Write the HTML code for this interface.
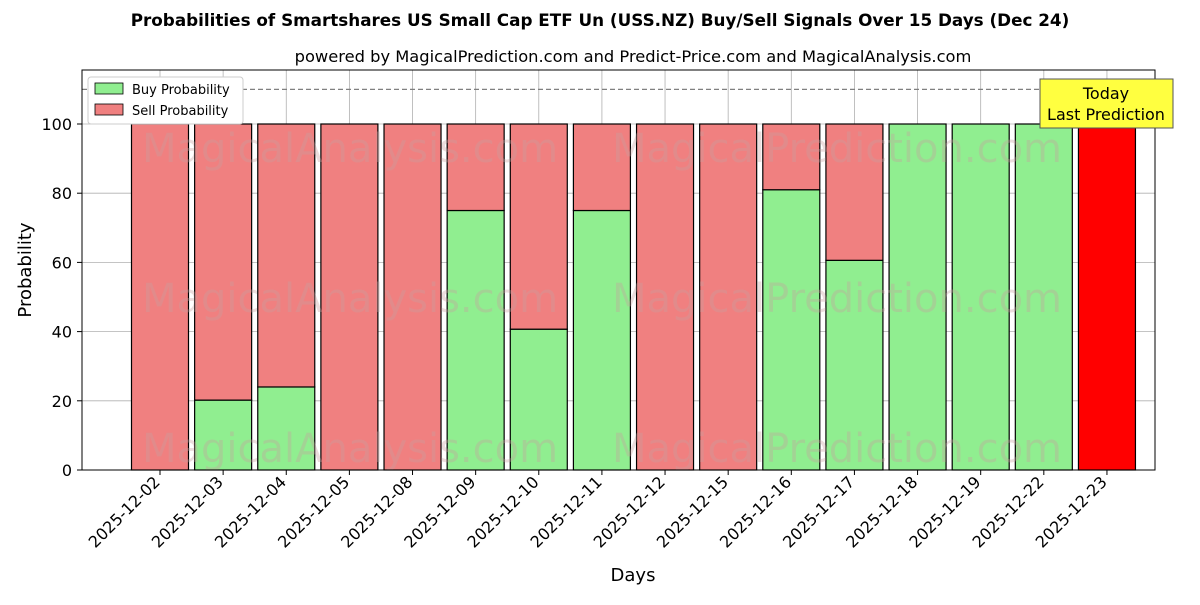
<!DOCTYPE html>
<html><head><meta charset="utf-8"><style>
body{margin:0;background:#fff;font-family:"Liberation Sans","DejaVu Sans",sans-serif;}
svg text{font-family:"DejaVu Sans","Liberation Sans",sans-serif;}
</style></head><body>
<svg id="chart" width="1200" height="600" xmlns="http://www.w3.org/2000/svg">
<rect width="1200" height="600" fill="#fff"/>
<text x="600" y="26" text-anchor="middle" font-size="16.8" font-weight="bold">Probabilities of Smartshares US Small Cap ETF Un (USS.NZ) Buy/Sell Signals Over 15 Days (Dec 24)</text>
<text x="633" y="62" text-anchor="middle" font-size="16.3">powered by MagicalPrediction.com and Predict-Price.com and MagicalAnalysis.com</text>
<g id="grid"></g>
<g id="bars"></g>
<g id="wm" fill="#c8a0a0" opacity="0.35" font-size="40">
<text x="350" y="162" text-anchor="middle">MagicalAnalysis.com</text>
<text x="837" y="162" text-anchor="middle">MagicalPrediction.com</text>
<text x="350" y="312" text-anchor="middle">MagicalAnalysis.com</text>
<text x="837" y="312" text-anchor="middle">MagicalPrediction.com</text>
<text x="350" y="462" text-anchor="middle">MagicalAnalysis.com</text>
<text x="837" y="462" text-anchor="middle">MagicalPrediction.com</text>
</g>
<line x1="82" x2="1155" y1="89.4" y2="89.4" stroke="#808080" stroke-width="1.2" stroke-dasharray="5,3"/>
<rect x="82" y="70" width="1073" height="400" fill="none" stroke="#000" stroke-width="1"/>
<g id="axes"></g>
<text x="0" y="0" transform="translate(31,270) rotate(-90)" text-anchor="middle" font-size="18">Probability</text>
<text x="633" y="581" text-anchor="middle" font-size="18">Days</text>
<g>
<rect x="88" y="77" width="155" height="47" fill="#fff" stroke="#ccc" rx="3"/>
<rect x="95" y="83" width="28" height="11" fill="#90ee90" stroke="#000" stroke-width="0.8"/>
<text x="132" y="94" font-size="13">Buy Probability</text>
<rect x="95" y="104" width="28" height="11" fill="#f08080" stroke="#000" stroke-width="0.8"/>
<text x="132" y="115" font-size="13">Sell Probability</text>
</g>
<g>
<rect x="1040" y="79" width="133" height="49" fill="#ffff40" stroke="#555" stroke-width="1"/>
<text x="1106" y="99" text-anchor="middle" font-size="16">Today</text>
<text x="1106" y="120" text-anchor="middle" font-size="16">Last Prediction</text>
</g>
</svg>
<script>
const days=["2025-12-02","2025-12-03","2025-12-04","2025-12-05","2025-12-08","2025-12-09","2025-12-10","2025-12-11","2025-12-12","2025-12-15","2025-12-16","2025-12-17","2025-12-18","2025-12-19","2025-12-22","2025-12-23"];
const buy=[0,20.2,24,0,0,75,40.7,75,0,0,81,60.6,100,100,100,0];
const sell=[100,79.8,76,100,100,25,59.3,25,100,100,19,39.4,0,0,0,100];
const yTicks=[0,20,40,60,80,100];
const NS="http://www.w3.org/2000/svg";
const X=i=>160+i*63.13, Y=v=>470-v*3.46, bw=57;
function mk(t,a,p){const e=document.createElementNS(NS,t);for(const k in a)e.setAttribute(k,a[k]);p.appendChild(e);return e;}
const grid=document.getElementById('grid'),bars=document.getElementById('bars'),axes=document.getElementById('axes');
yTicks.forEach(v=>{
 const g=mk('line',{x1:82,x2:1155,y1:Y(v),y2:Y(v),stroke:'#b0b0b0','stroke-width':0.8},grid);
 
 
 mk('line',{x1:77,x2:82,y1:Y(v),y2:Y(v),stroke:'#000'},axes);
 const t=mk('text',{x:72,y:Y(v)+6,'text-anchor':'end','font-size':16},axes);t.textContent=v;
 
 
});
days.forEach((d,i)=>{
 const g=mk('line',{x1:X(i),x2:X(i),y1:70,y2:470,stroke:'#b0b0b0','stroke-width':0.8},grid);
 
 
 const last=i===days.length-1;
 if(buy[i]>0){const r=mk('rect',{x:X(i)-bw/2,y:Y(buy[i]),width:bw,height:Y(0)-Y(buy[i]),fill:'#90ee90',stroke:'#000','stroke-width':1.2},bars);
  
  }
 if(sell[i]>0){const r=mk('rect',{x:X(i)-bw/2,y:Y(buy[i]+sell[i]),width:bw,height:Y(buy[i])-Y(buy[i]+sell[i]),fill:last?'#ff0000':'#f08080',stroke:'#000','stroke-width':1.2},bars);
  
  }
 mk('line',{x1:X(i),x2:X(i),y1:470,y2:475,stroke:'#000'},axes);
 const t=mk('text',{x:0,y:0,'text-anchor':'end','font-size':16,transform:`translate(${X(i)+1},${483}) rotate(-45)`},axes);t.textContent=d;
 
 
});
</script>
</body></html>
